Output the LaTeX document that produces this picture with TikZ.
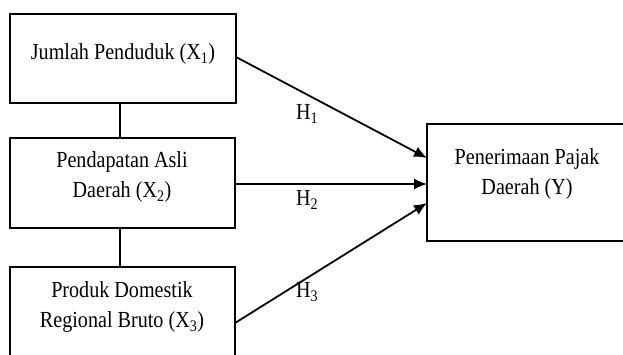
\documentclass[tikz,border=0pt]{standalone}
\usepackage{fontspec}
\setmainfont{Liberation Serif}[FakeStretch=0.875]
\usetikzlibrary{arrows.meta}
\begin{document}
\begin{tikzpicture}[x=1pt,y=-1pt,
  box/.style={draw, line width=1.8pt, inner sep=0pt, outer sep=0pt},
  lbl/.style={font=\fontsize{23}{30}\selectfont, align=center, inner sep=0pt},
  conn/.style={line width=1.8pt},
  arr/.style={conn, -{Latex[length=13pt,width=11pt]}}]
\useasboundingbox (0,0) rectangle (623,355);
\fill[white] (0,0) rectangle (623,355);
\node[box, minimum width=226pt, minimum height=89pt] (b1) at (123,58.5) {};
\node[box, minimum width=225pt, minimum height=90pt] (b2) at (122.5,183) {};
\node[box, minimum width=225pt, minimum height=108pt] (b3) at (122.5,321) {};
\node[box, minimum width=213pt, minimum height=117pt] (by) at (533.5,182.5) {};
\node[lbl] (t1) at (123,54) {Jumlah Penduduk (X\textsubscript{1})};
\node[lbl] (t2) at (122,177) {Pendapatan Asli\\Daerah (X\textsubscript{2})};
\node[lbl] (t3) at (122,307) {Produk Domestik\\Regional Bruto (X\textsubscript{3})};
\node[lbl] (ty) at (527,174) {Penerimaan Pajak\\Daerah (Y)};
\draw[conn] ([xshift=-3pt]b1.south) -- ([xshift=-2.5pt]b2.north);
\draw[conn] ([xshift=-2.5pt]b2.south) -- ([xshift=-2.5pt]b3.north);
\draw[arr] ([yshift=1.5pt]b1.east) -- ([yshift=24.5pt]by.west);
\draw[arr] ([yshift=-1pt]b2.east) -- ([yshift=-1.5pt]by.west);
\draw[arr] ([yshift=-2pt]b3.east) -- ([yshift=-20.5pt]by.west);
\node[lbl, anchor=west] (h1) at (296,114) {H\textsubscript{1}};
\node[lbl, anchor=west] (h2) at (296,200) {H\textsubscript{2}};
\node[lbl, anchor=west] (h3) at (296,292) {H\textsubscript{3}};
\end{tikzpicture}
\end{document}
